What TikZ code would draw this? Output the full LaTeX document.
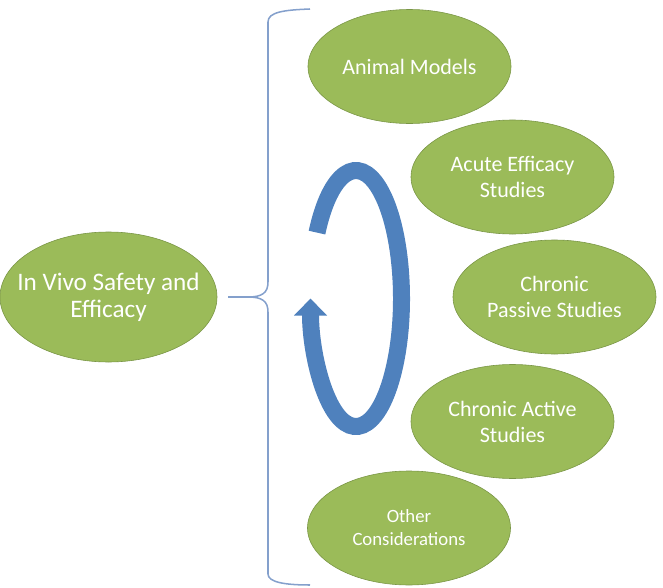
\documentclass[tikz,border=0pt]{standalone}
\usepackage{fontspec}
\setmainfont{Carlito}
\usetikzlibrary{shapes.geometric,arrows.meta}
\definecolor{leafgreen}{RGB}{155,187,89}
\definecolor{leafedge}{RGB}{122,150,70}
\definecolor{cycleblue}{RGB}{79,129,189}
\definecolor{bracelight}{RGB}{132,160,204}

\begin{document}
\begin{tikzpicture}[x=0.03cm,y=0.03cm,
  topic/.style={ellipse, fill=leafgreen, draw=leafedge, line width=0.5pt, text=white, align=center, inner sep=0pt},
  study/.style={topic, minimum width=6.09cm, minimum height=3.42cm, font=\fontsize{18.8}{22.2}\selectfont}]
\useasboundingbox (0,0) rectangle (663,-588);

% Main topic
\node[topic, inner xsep=-0.8cm, minimum width=6.51cm, minimum height=3.9cm,
  font=\fontsize{21.5}{23}\selectfont] (invivo) at (108.5,-297) {In Vivo Safety and\\Efficacy};

% Brace
\draw[bracelight, line width=1.3pt] (310,-9) .. controls (284,-10) and (268,-12) .. (268,-22)
  -- (268,-282) .. controls (268,-293) and (262,-297) .. (248,-297) -- (228,-297);
\draw[bracelight, line width=1.3pt] (248,-297) .. controls (262,-297) and (268,-301) .. (268,-312)
  -- (268,-574) .. controls (268,-582) and (284,-585) .. (310,-585);

% Cycle arrow
\draw[cycleblue, line width=0.51cm, -{Triangle[length=0.51cm, width=0.96cm]}]
  (317,-232.6) arc[start angle=149, end angle=-180, x radius=45.5, y radius=128];

% Studies
\node[study] (animal) at (409.5,-66.5) {Animal Models};
\node[study] (acute) at (512.5,-177) {Acute Efficacy\\Studies};
\node[study] (passive) at (554.5,-297) {Chronic\\Passive Studies};
\node[study] (active) at (512.5,-421.5) {Chronic Active\\Studies};
\node[study, font=\fontsize{16}{19.6}\selectfont] (other) at (409,-528) {Other\\Considerations};
\end{tikzpicture}
\end{document}
